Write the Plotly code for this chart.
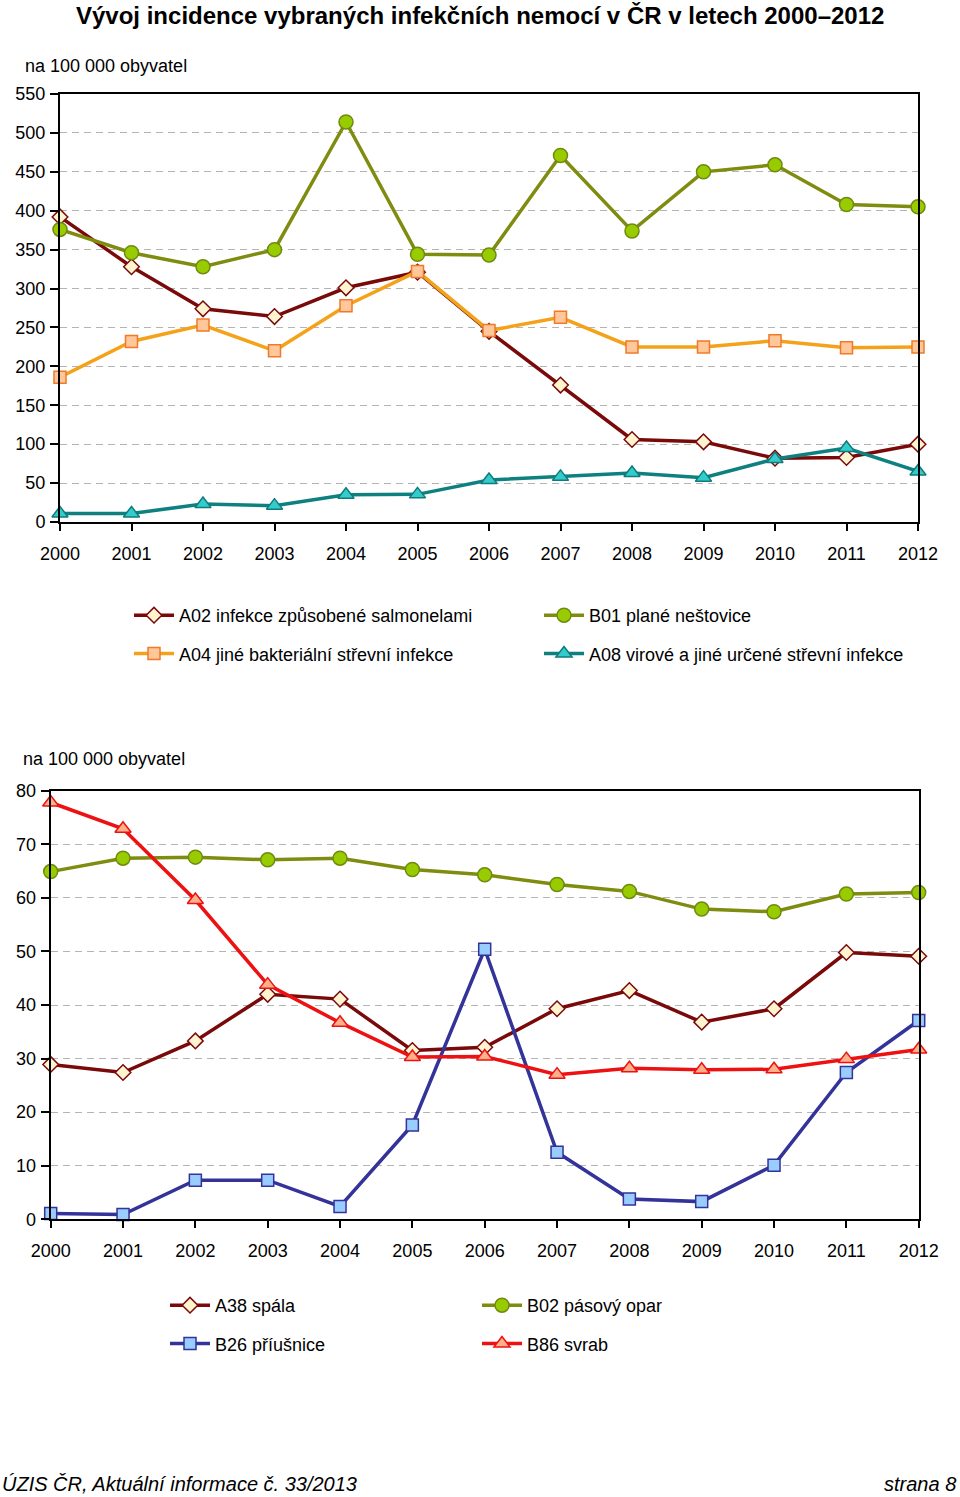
import plotly.graph_objects as go

years = list(range(2000, 2013))

# Top chart (per 100 000 inhabitants)
a02 = [392, 328, 274, 264, 301, 321, 245, 176, 106, 103, 82, 83, 100]
a04 = [186, 232, 253, 220, 278, 322, 246, 263, 225, 225, 233, 224, 225]
b01 = [376, 346, 328, 350, 514, 344, 343, 471, 374, 450, 459, 408, 405]
a08 = [11, 11, 23, 21, 35, 35.5, 54, 58, 63, 57, 81, 95, 65]

# Bottom chart
a38 = [28.9, 27.4, 33.3, 42.0, 41.1, 31.5, 32.1, 39.3, 42.7, 36.8, 39.3, 49.8, 49.1]
b02 = [64.9, 67.4, 67.6, 67.1, 67.4, 65.3, 64.3, 62.5, 61.2, 57.9, 57.4, 60.7, 61.0]
b26 = [1.1, 0.9, 7.3, 7.3, 2.4, 17.6, 50.4, 12.5, 3.8, 3.3, 10.1, 27.4, 37.1]
b86 = [77.8, 72.9, 59.6, 43.8, 36.7, 30.3, 30.4, 27.0, 28.2, 27.9, 28.0, 29.9, 31.7]

names_top = ["A02 infekce způsobené salmonelami", "A04 jiné bakteriální střevní infekce",
             "B01 plané neštovice", "A08 virové a jiné určené střevní infekce"]
names_bot = ["A38 spála", "B26 příušnice", "B02 pásový opar", "B86 svrab"]

title = "Vývoj incidence vybraných infekčních nemocí v ČR v letech 2000–2012"
unit_label = "na 100 000 obyvatel"
footer_left = "ÚZIS ČR, Aktuální informace č. 33/2013"
footer_right = "strana 8"

FONT = "Liberation Sans, Arial, sans-serif"
FS = 17
W, H = 960, 1497

styles = {
    "diamond": dict(line="#7A0A0A", fill="#FFF3D0", edge="#7A0A0A", symbol="diamond", size=12),
    "square_o": dict(line="#F5A21B", fill="#FFC79A", edge="#F07A28", symbol="square", size=12),
    "circle": dict(line="#7F8C10", fill="#99CC00", edge="#6E8A10", symbol="circle", size=14),
    "tri_teal": dict(line="#0E8080", fill="#33CCCC", edge="#127A7A", symbol="triangle-up", size=14),
    "square_b": dict(line="#333399", fill="#99CCFF", edge="#333399", symbol="square", size=12),
    "tri_red": dict(line="#EE1111", fill="#FFB08A", edge="#EE1111", symbol="triangle-up", size=14),
}

fig = go.Figure()

def add(y, name, st, xa, ya, legend):
    s = styles[st]
    fig.add_trace(go.Scatter(
        x=years, y=y, name=name, mode="lines+markers",
        line=dict(color=s["line"], width=3.5),
        marker=dict(symbol=s["symbol"], size=s["size"], color=s["fill"],
                    line=dict(color=s["edge"], width=1.5)),
        xaxis=xa, yaxis=ya, cliponaxis=False,
        legend=legend, legendgroup=name,
    ))

add(a02, names_top[0], "diamond", "x", "y", "legend")
add(a04, names_top[1], "square_o", "x", "y", "legend")
add(b01, names_top[2], "circle", "x", "y", "legend2")
add(a08, names_top[3], "tri_teal", "x", "y", "legend2")

add(a38, names_bot[0], "diamond", "x2", "y2", "legend3")
add(b26, names_bot[1], "square_b", "x2", "y2", "legend3")
add(b02, names_bot[2], "circle", "x2", "y2", "legend4")
add(b86, names_bot[3], "tri_red", "x2", "y2", "legend4")

def px_x(v):
    return v / W

def px_y(v):
    return 1 - v / H

axis_common = dict(showline=True, linecolor="black", linewidth=2, mirror=True,
                   ticks="outside", tickcolor="black", tickwidth=1.5, automargin=False,
                   tickfont=dict(family=FONT, size=FS + 1, color="black"), zeroline=False)

fig.update_layout(
    template="none",
    width=W, height=H, margin=dict(l=0, r=0, t=0, b=0, pad=0),
    paper_bgcolor="white", plot_bgcolor="white",
    font=dict(family=FONT, size=FS, color="black"),
    xaxis=dict(domain=[px_x(60), px_x(918)], range=[2000, 2012], tickvals=years,
               ticklen=7, showgrid=False, anchor="y", ticklabelstandoff=7, **axis_common),
    yaxis=dict(domain=[px_y(522), px_y(94)], range=[0, 550], dtick=50,
               ticklen=8, showgrid=True, gridcolor="#B4B4B4", griddash="7px,5px", gridwidth=1,
               anchor="x", ticklabelstandoff=1, **axis_common),
    xaxis2=dict(domain=[px_x(50.7), px_x(918.7)], range=[2000, 2012], tickvals=years,
                ticklen=7, showgrid=False, anchor="y2", ticklabelstandoff=7, **axis_common),
    yaxis2=dict(domain=[px_y(1219.3), px_y(790.7)], range=[0, 80], dtick=10,
                ticklen=8, showgrid=True, gridcolor="#B4B4B4", griddash="7px,5px", gridwidth=1,
                anchor="x2", ticklabelstandoff=1, **axis_common),
    showlegend=True,
)

leg_common = dict(orientation="v", traceorder="grouped", tracegroupgap=12,
                  bgcolor="rgba(0,0,0,0)", borderwidth=0,
                  font=dict(family=FONT, size=FS + 1, color="black"),
                  xanchor="left", yanchor="top", itemwidth=40)
fig.update_layout(
    legend=dict(x=px_x(129), y=px_y(597), **leg_common),
    legend2=dict(x=px_x(539), y=px_y(597), **leg_common),
    legend3=dict(x=px_x(165), y=px_y(1287), **leg_common),
    legend4=dict(x=px_x(477), y=px_y(1287), **leg_common),
)

ann = [
    dict(text="<b>" + title + "</b>", x=0.5, y=px_y(15), xref="paper", yref="paper",
         xanchor="center", yanchor="middle", showarrow=False,
         font=dict(family=FONT, size=24, color="black")),
    dict(text=unit_label, x=px_x(23), y=px_y(66), xref="paper", yref="paper",
         xanchor="left", yanchor="middle", showarrow=False,
         font=dict(family=FONT, size=FS + 1, color="black")),
    dict(text=unit_label, x=px_x(21), y=px_y(759), xref="paper", yref="paper",
         xanchor="left", yanchor="middle", showarrow=False,
         font=dict(family=FONT, size=FS + 1, color="black")),
    dict(text="<i>" + footer_left + "</i>", x=0, y=px_y(1484), xref="paper", yref="paper",
         xanchor="left", yanchor="middle", showarrow=False,
         font=dict(family=FONT, size=20, color="black")),
    dict(text="<i>" + footer_right + "</i>", x=px_x(958), y=px_y(1484), xref="paper", yref="paper",
         xanchor="right", yanchor="middle", showarrow=False,
         font=dict(family=FONT, size=20, color="black")),
]
fig.update_layout(annotations=ann)

fig.write_html("out.html", config={"displayModeBar": False},
               post_script="document.body.style.margin='0';")
